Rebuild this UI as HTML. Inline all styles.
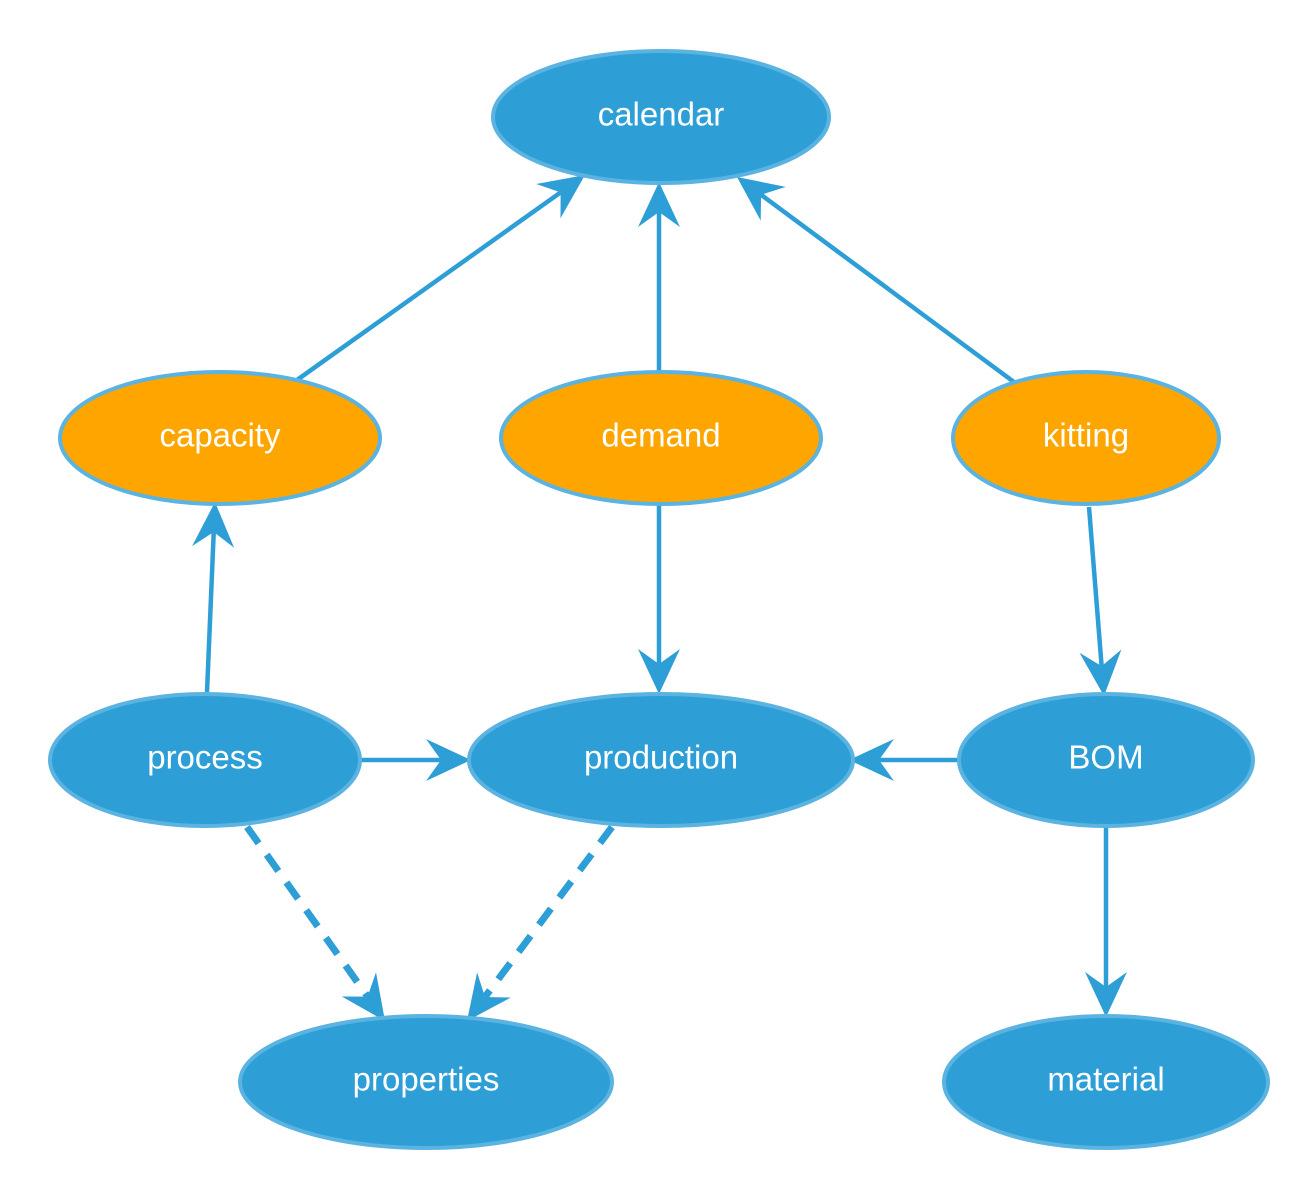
<!DOCTYPE html>
<html><head><meta charset="utf-8"><style>
html,body{margin:0;padding:0;background:#fff;}
svg{display:block}
text{font-family:"Liberation Sans",sans-serif;font-size:33px;fill:#fff;text-anchor:middle;dominant-baseline:central}
</style></head><body>
<svg id="s" width="1300" height="1182" viewBox="0 0 1300 1182" xmlns="http://www.w3.org/2000/svg">
<g id="edges"></g>
<g stroke="#5ab3e0" stroke-width="4">
<ellipse cx="661" cy="117" rx="168" ry="66" fill="#2d9fd6"/>
<ellipse cx="220" cy="438" rx="160" ry="66" fill="#fea500"/>
<ellipse cx="661" cy="438" rx="160" ry="66" fill="#fea500"/>
<ellipse cx="1086" cy="438" rx="133" ry="66" fill="#fea500"/>
<ellipse cx="205" cy="760" rx="155" ry="66" fill="#2d9fd6"/>
<ellipse cx="661" cy="760" rx="192" ry="66" fill="#2d9fd6"/>
<ellipse cx="1106" cy="760" rx="147" ry="66" fill="#2d9fd6"/>
<ellipse cx="426" cy="1082" rx="186" ry="66" fill="#2d9fd6"/>
<ellipse cx="1106" cy="1082" rx="162" ry="66" fill="#2d9fd6"/>
</g>
<text x="661" y="114">calendar</text>
<text x="220" y="435">capacity</text>
<text x="661" y="435">demand</text>
<text x="1086" y="435">kitting</text>
<text x="205" y="757">process</text>
<text x="661" y="757">production</text>
<text x="1106" y="757">BOM</text>
<text x="426" y="1079">properties</text>
<text x="1106" y="1079">material</text>
</svg>
<script>
var E=[[297,380,585,175,0],[659,372,659,182,0],[1014,382,737,177,0],[207,692,215,502,0],[659,505,659,694,0],[1089,507,1104,696,0],[360,760,471,760,0],[958,760,849,760,0],[1106,827,1106,1017,0],[247,827,385,1021,1],[612,827,467,1021,1]];
var g=document.getElementById('edges'),h='';
E.forEach(function(e){var dx=e[2]-e[0],dy=e[3]-e[1],L=Math.hypot(dx,dy),ux=dx/L,uy=dy/L,nx=-uy,ny=ux,tx=e[2],ty=e[3];
var ex=tx-ux*30,ey=ty-uy*30;
h+='<line x1="'+e[0]+'" y1="'+e[1]+'" x2="'+ex+'" y2="'+ey+'" stroke="#2d9fd6" stroke-width="'+(e[4]?7:4.5)+'"'+(e[4]?' stroke-dasharray="20,14"':'')+'/>';
var p=[[tx,ty],[tx-45*ux+21*nx,ty-45*uy+21*ny],[tx-30*ux,ty-30*uy],[tx-45*ux-21*nx,ty-45*uy-21*ny]];
h+='<polygon fill="#2d9fd6" points="'+p.map(function(q){return q[0].toFixed(1)+','+q[1].toFixed(1)}).join(' ')+'"/>';});
g.innerHTML=h;
</script>
</body></html>
